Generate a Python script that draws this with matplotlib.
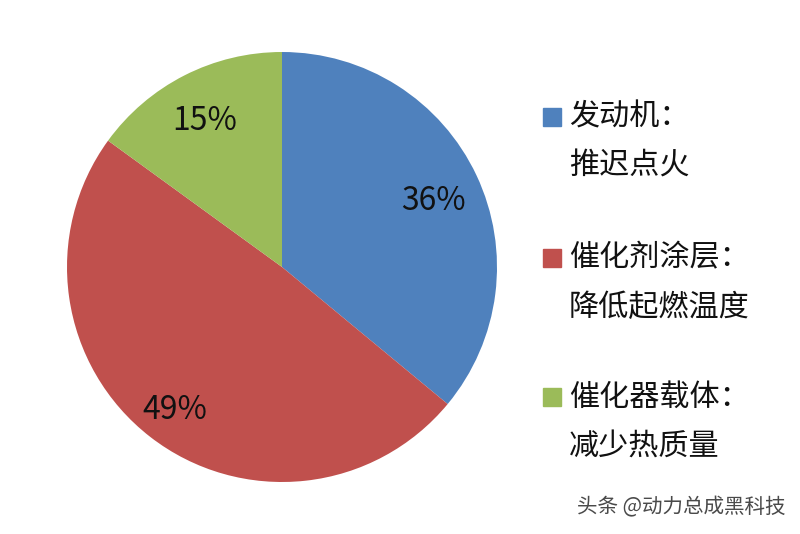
import matplotlib
matplotlib.use("Agg")
import numpy as np
import matplotlib.pyplot as plt
from matplotlib.patches import Rectangle

plt.rcParams['font.family'] = ['Noto Sans CJK SC', 'DejaVu Sans']

# data
shares = [36, 49, 15]
names = ['发动机：', '催化剂涂层：', '催化器载体：']
details = ['推迟点火', '降低起燃温度', '减少热质量']
colors = ['#4F81BD', '#C0504D', '#9BBB59']
label_dist = [0.78, 0.81, 0.79]

fig = plt.figure(figsize=(8, 5.34), dpi=100)
ax = fig.add_axes([67/800, (534-482)/534, 430/800, 430/534])

wedges, texts = ax.pie(shares, colors=colors, startangle=90, counterclock=False,
                       radius=1, wedgeprops=dict(linewidth=0))

# percent labels, placed at the middle angle of each wedge
for w, v, d in zip(wedges, shares, label_dist):
    ang = np.deg2rad((w.theta1 + w.theta2) / 2)
    ax.text(d * np.cos(ang), d * np.sin(ang) - 0.025, '%d%%' % v,
            ha='center', va='center', fontsize=23, color='#111111')

ax.set_xlim(-1, 1)
ax.set_ylim(-1, 1)
ax.set_aspect('equal')
ax.axis('off')

# legend drawn by hand, two lines per entry
row_y = [117, 258, 397]
for i in range(len(names)):
    y = row_y[i]
    fig.patches.append(Rectangle((543/800, 1 - (y + 9)/534), 18/800, 18/534,
                                 transform=fig.transFigure, color=colors[i]))
    fig.text(569/800, 1 - y/534, names[i], fontsize=21.7, va='center', ha='left', color='#111111')
    fig.text(569/800, 1 - (y + 49)/534, details[i], fontsize=21.7, va='center', ha='left', color='#111111')

fig.text(577/800, 1 - 507/534, '头条 @动力总成黑科技', fontsize=14.8, va='center', ha='left',
         color='#4a4a4a')

fig.savefig('out.png', dpi=100)
